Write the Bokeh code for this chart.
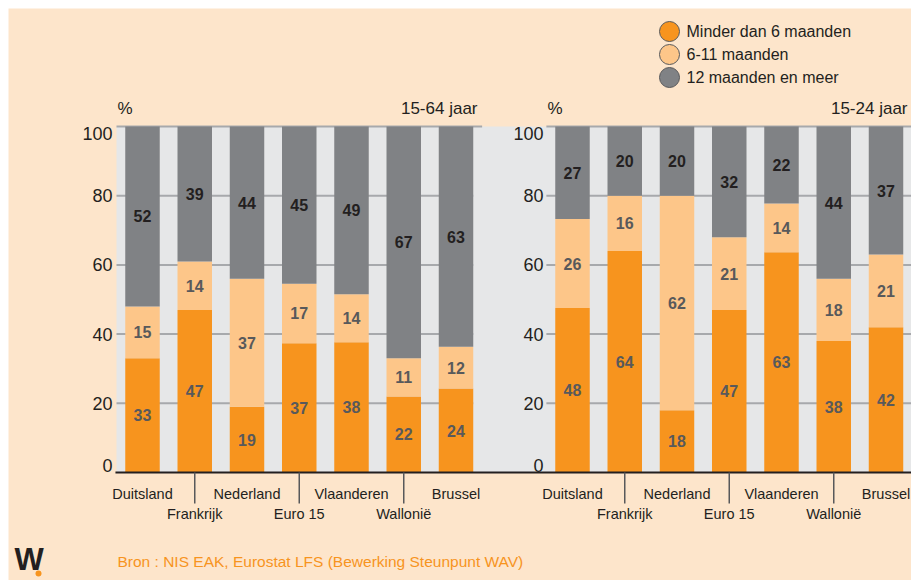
from bokeh.plotting import figure
from bokeh.models import Range1d, BoxAnnotation
from bokeh.embed import file_html
from bokeh.resources import INLINE
from bokeh.core.properties import value

# ---------------- data ----------------
countries = ["Duitsland", "Frankrijk", "Nederland", "Euro 15", "Vlaanderen", "Wallonië", "Brussel"]
series = ["Minder dan 6 maanden", "6-11 maanden", "12 maanden en meer"]
panel_titles = ["15-64 jaar", "15-24 jaar"]
short_1564 = [33, 47, 19, 37, 38, 22, 24]
mid_1564 = [15, 14, 37, 17, 14, 11, 12]
long_1564 = [52, 39, 44, 45, 49, 67, 63]
short_1524 = [48, 64, 18, 47, 63, 38, 42]
mid_1524 = [26, 16, 62, 21, 14, 18, 21]
long_1524 = [27, 20, 20, 32, 22, 44, 37]
y_ticks = [0, 20, 40, 60, 80, 100]
y_unit_label = "%"
source_text = "Bron : NIS EAK, Eurostat LFS (Bewerking Steunpunt WAV)"
logo_text = "W"

# ---------------- style / layout ----------------
PEACH = "#fde5cb"
PANEL = "#e6e7e8"
GRID = "#a7a9ac"
ORANGE = "#f7941e"
LIGHT = "#fdc689"
GRAY = "#808285"
DARK = "#231f20"
MIDTXT = "#58595b"
FONT = "'Liberation Sans Narrow', 'Arial Narrow', 'Liberation Sans', sans-serif"
colors = [ORANGE, LIGHT, GRAY]
label_colors = [MIDTXT, MIDTXT, DARK]

W, H = 911, 580
PITCH = 52.25          # px per bar slot
YPX = 3.46             # px per percent
OX, OY = 142, 472      # canvas px of (first bar centre, 0 %)
def dx(px): return (px - OX) / PITCH
def dy(py): return (OY - py) / YPX

GAP = 430 / PITCH      # offset of the right panel
BW = 0.66
XL, XR = dx(0), dx(W)

p = figure(width=W, height=H, x_range=Range1d(XL, XR), y_range=Range1d(dy(H), dy(0)),
           output_backend="svg", toolbar_location=None, title=None,
           x_axis_location=None, y_axis_location=None,
           min_border_left=0, min_border_right=0, min_border_top=0, min_border_bottom=0,
           background_fill_color="white", border_fill_color="white", outline_line_color=None)
p.grid.visible = False

# page background and grey plotting band
p.add_layout(BoxAnnotation(left=dx(8), top=dy(8), fill_color=PEACH, fill_alpha=1.0,
                           line_color=None, level="underlay"))
PANEL_L = dx(116)
p.add_layout(BoxAnnotation(left=PANEL_L, bottom=0, top=100, fill_color=PANEL, fill_alpha=1.0,
                           line_color=None, level="underlay"))

n = len(countries)
offsets = [0.0, GAP]

# gridlines per panel
gx0, gx1, gy = [], [], []
for t in y_ticks[1:]:
    gx0.append(PANEL_L); gx1.append(n - 1 + (0.5 if t == max(y_ticks) else BW / 2)); gy.append(t)
    gx0.append(GAP - 0.5); gx1.append(XR); gy.append(t)
p.segment(x0=gx0, y0=gy, x1=gx1, y1=gy, line_color=GRID, line_width=2)

# stacked bars
panels = [(short_1564, mid_1564, long_1564), (short_1524, mid_1524, long_1524)]
tx, ty, tt, tc = [], [], [], []
for off, segs in zip(offsets, panels):
    xs = [off + i for i in range(n)]
    totals = [sum(v) for v in zip(*segs)]
    bottom = [0.0] * n
    for k, seg in enumerate(segs):
        h = [v / tot * 100 for v, tot in zip(seg, totals)]
        top = [b + hh for b, hh in zip(bottom, h)]
        p.vbar(x=xs, width=BW, bottom=bottom, top=top, fill_color=colors[k], line_color=None)
        for i in range(n):
            tx.append(xs[i]); ty.append((bottom[i] + top[i]) / 2)
            tt.append(str(seg[i])); tc.append(label_colors[k])
        bottom = top

p.text(x=tx, y=ty, text=tt, text_color=tc, text_font=value(FONT), text_font_style="bold",
       text_font_size="16px", text_align="center", text_baseline="middle")

# y tick labels for both panels
lab_x, lab_y, lab_t, lab_off = [], [], [], []
for xpos in [dx(112), GAP - 0.555]:
    for t in y_ticks:
        lab_x.append(xpos); lab_y.append(t); lab_t.append(str(t))
        lab_off.append(7 if t == max(y_ticks) else (-7 if t == min(y_ticks) else 0))
p.text(x=lab_x, y=lab_y, text=lab_t, y_offset=lab_off, text_color=DARK, text_font=value(FONT),
       text_font_size="18px", text_align="right", text_baseline="middle")

# baseline and group separators
p.segment(x0=[PANEL_L - 0.02], y0=[0], x1=[XR], y1=[0], line_color=DARK, line_width=2)
sep_x = [off + i for off in offsets for i in range(n) if i % 2 == 1]
p.segment(x0=sep_x, y0=[0] * len(sep_x), x1=sep_x, y1=[dy(503)] * len(sep_x),
          line_color=MIDTXT, line_width=1.5)

# category labels (staggered)
cx, cy, ct = [], [], []
for off in offsets:
    for i, c in enumerate(countries):
        cx.append(off + i); cy.append(dy(493) if i % 2 == 0 else dy(513)); ct.append(c)
p.text(x=cx, y=cy, text=ct, text_color=DARK, text_font=value(FONT), text_font_size="14.5px",
       text_align="center", text_baseline="middle")

# panel headers
p.text(x=[dx(117), dx(547)], y=[dy(108)] * 2, text=[y_unit_label] * 2, text_color=DARK,
       text_font=value(FONT), text_font_size="17px", text_align="left", text_baseline="middle")
p.text(x=[dx(477), dx(907)], y=[dy(108)] * 2, text=panel_titles, text_color=DARK,
       text_font=value(FONT), text_font_size="17px", text_align="right", text_baseline="middle")

# legend
lx = dx(669)
ly = [dy(31 + 23 * k) for k in range(len(series))]
p.scatter(x=[lx] * len(series), y=ly, size=20, marker="circle", fill_color=colors,
          line_color="#58595b", line_width=1)
p.text(x=[dx(686)] * len(series), y=ly, text=series, text_color=DARK, text_font=value(FONT),
       text_font_size="16px", text_align="left", text_baseline="middle")

# source + logo
p.text(x=[dx(117)], y=[dy(561)], text=[source_text], text_color=ORANGE, text_font=value(FONT),
       text_font_size="15.5px", text_align="left", text_baseline="middle")
p.text(x=[dx(14)], y=[dy(559)], text=[logo_text], text_color=DARK, text_font=value(FONT),
       text_font_style="bold", text_font_size="31px", text_align="left", text_baseline="middle")
p.scatter(x=[dx(38)], y=[dy(573)], size=6, marker="circle", fill_color=ORANGE, line_color=None)

open("out.html", "w").write(file_html(p, INLINE))
